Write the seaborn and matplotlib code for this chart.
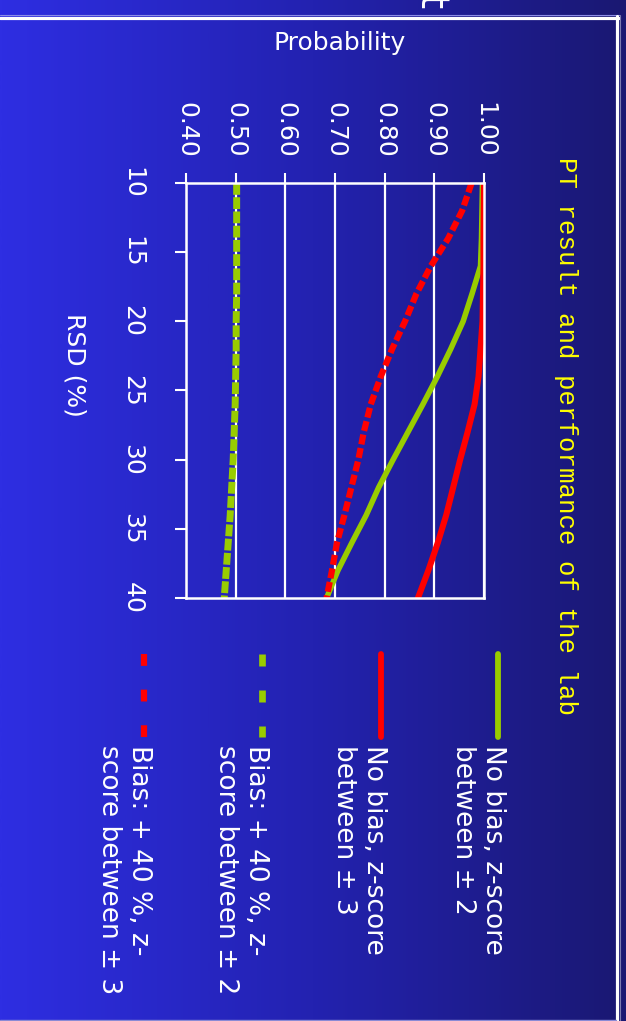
import numpy as np
import pandas as pd
import matplotlib
matplotlib.use("Agg")
import matplotlib.pyplot as plt
from matplotlib.lines import Line2D
from matplotlib.colors import LinearSegmentedColormap
import seaborn as sns

# ---------------- data ----------------
rsd = [10, 12, 14, 16, 18, 20, 22, 24, 26, 28, 30, 32, 34, 36, 38, 40]
nobias_z2 = [0.997, 0.996, 0.995, 0.993, 0.976, 0.958, 0.933, 0.906, 0.877, 0.847,
             0.817, 0.788, 0.763, 0.734, 0.706, 0.683]
nobias_z3 = [1.000, 0.9995, 0.999, 0.999, 0.998, 0.997, 0.993, 0.989, 0.981, 0.967,
             0.952, 0.938, 0.924, 0.907, 0.888, 0.867]
bias40_z2 = [0.502, 0.502, 0.502, 0.502, 0.502, 0.501, 0.501, 0.500, 0.499, 0.497,
             0.495, 0.492, 0.489, 0.485, 0.481, 0.477]
bias40_z3 = [0.975, 0.956, 0.928, 0.893, 0.864, 0.841, 0.815, 0.792, 0.772, 0.758,
             0.747, 0.733, 0.719, 0.704, 0.694, 0.683]
series_labels = ["No bias, z-score\nbetween ± 2",
                 "No bias, z-score\nbetween ± 3",
                 "Bias: + 40 %, z-\nscore between ± 2",
                 "Bias: + 40 %, z-\nscore between ± 3"]
prob_ticks = [0.40, 0.50, 0.60, 0.70, 0.80, 0.90, 1.00]
prob_ticklabels = ["0.40", "0.50", "0.60", "0.70", "0.80", "0.90", "1.00"]
rsd_ticks = [10, 15, 20, 25, 30, 35, 40]
rsd_ticklabels = ["10", "15", "20", "25", "30", "35", "40"]
title = "PT result and performance of the lab"
xlabel = "Probability"
ylabel = "RSD (%)"

# ---------------- setup ----------------
sns.set_theme(style="white")
plt.rcParams['font.family'] = ['DejaVu Sans']

W, H = 626, 1021
fig = plt.figure(figsize=(W / 100, H / 100), dpi=100)


def fx(px):
    return px / W


def fy(py):
    return 1 - py / H


# background gradient
bg = fig.add_axes([0, 0, 1, 1], zorder=-10)
grad = np.linspace(0, 1, 512).reshape(1, -1)
cmap = LinearSegmentedColormap.from_list('bg', ['#2E2EE2', '#2322B0', '#1A1872'])
bg.imshow(grad, aspect='auto', cmap=cmap, extent=[0, 1, 0, 1])
bg.set_axis_off()

# main axes (rotated chart: probability horizontal, RSD vertical downward)
ax = fig.add_axes([fx(186), fy(598), fx(484) - fx(186), fy(183) - fy(598)])
ax.set_facecolor('none')

df = pd.DataFrame({"RSD": rsd, "nb2": nobias_z2, "nb3": nobias_z3,
                   "b2": bias40_z2, "b3": bias40_z3})
green = '#99CC00'
red = '#FF0000'
series = [
    ("nb2", green, 4.0, '-'),
    ("nb3", red, 4.4, '-'),
    ("b2", green, 5.0, (0, (1.7, 0.35))),
    ("b3", red, 4.5, (0, (1.6, 0.6))),
]
for col, color, lw, ls in series:
    sns.lineplot(data=df, x=col, y="RSD", orient='y', ax=ax, color=color,
                 linewidth=lw, linestyle=ls, legend=False)

ax.set_xlim(0.40, 1.00)
ax.set_ylim(40, 10)
ax.xaxis.tick_top()
ax.set_xticks(prob_ticks)
ax.set_xticklabels(prob_ticklabels, rotation=-90, ha='center', va='bottom')
ax.set_yticks(rsd_ticks)
ax.set_yticklabels(rsd_ticklabels, rotation=-90, ha='right', va='center')
ax.tick_params(axis='x', top=True, bottom=False, labeltop=True, labelbottom=False,
               direction='out', length=7, width=1.5, color='white',
               labelcolor='white', labelsize=18, pad=11)
ax.tick_params(axis='y', left=True, right=False, direction='out', length=8,
               width=1.5, color='white', labelcolor='white', labelsize=18, pad=22)
ax.grid(axis='x', color='white', linewidth=1.6)
ax.grid(axis='y', visible=False)
for s in ax.spines.values():
    s.set_color('white')
    s.set_linewidth(1.8)

ax.xaxis.set_label_position('top')
ax.set_xlabel(xlabel, fontsize=18, color='white')
ax.xaxis.set_label_coords((340 - 186) / 298, 1 + (183 - 43) / 415)
ax.xaxis.label.set_va('center')
ax.xaxis.label.set_ha('center')
ax.set_ylabel(ylabel, fontsize=18, color='white', rotation=-90)
ax.yaxis.set_label_coords((75 - 186) / 298, (598 - 365) / 415)
ax.yaxis.label.set_va('center')
ax.yaxis.label.set_ha('center')

# title (rotated)
fig.text(fx(566), fy(436), title, rotation=-90, color='#FFFF00', fontsize=18.5,
         family=['Liberation Mono', 'DejaVu Sans Mono'], ha='center', va='center')

# legend (rotated, drawn manually)
line_x = [498, 381, 262, 144]
text_right = [506, 387, 269, 152]
leg_styles = [(green, 4.2, '-'), (red, 4.2, '-'),
              (green, 4.8, (0, (1.8, 3.6))), (red, 4.5, (0, (1.9, 3.8)))]
for lx, tr, lab, (c, lw, ls) in zip(line_x, text_right, series_labels, leg_styles):
    capstyle = 'round' if ls == '-' else 'butt'
    fig.add_artist(Line2D([fx(lx), fx(lx)], [fy(654), fy(737)], color=c, lw=lw,
                          linestyle=ls, solid_capstyle=capstyle,
                          dash_capstyle='butt', transform=fig.transFigure))
    fig.text(fx(tr), fy(745), lab, rotation=-90, ha='right', va='top',
             multialignment='left', fontsize=19, color='white')

# partial slide title glyph at top
fig.text(fx(431), fy(2), "t", rotation=-90, fontsize=28, color='white',
         ha='center', va='center')

# slide frame lines
fig.add_artist(Line2D([0, fx(619)], [fy(15), fy(15)], color='#8E8EE6', lw=0.8,
                      transform=fig.transFigure))
fig.add_artist(Line2D([0, fx(618.5)], [fy(17.7), fy(17.7)], color='white', lw=2.3,
                      transform=fig.transFigure))
fig.add_artist(Line2D([fx(617), fx(617)], [fy(16.5), 0], color='white', lw=2.3,
                      transform=fig.transFigure))
fig.add_artist(Line2D([fx(620), fx(620)], [fy(15), 0], color='#7A7AB0', lw=0.8,
                      transform=fig.transFigure))
fig.add_artist(Line2D([0, fx(615.5)], [fy(1019.5), fy(1019.5)], color='#8A8AD6',
                      lw=1.0, transform=fig.transFigure))

fig.savefig("out.png", dpi=100)
